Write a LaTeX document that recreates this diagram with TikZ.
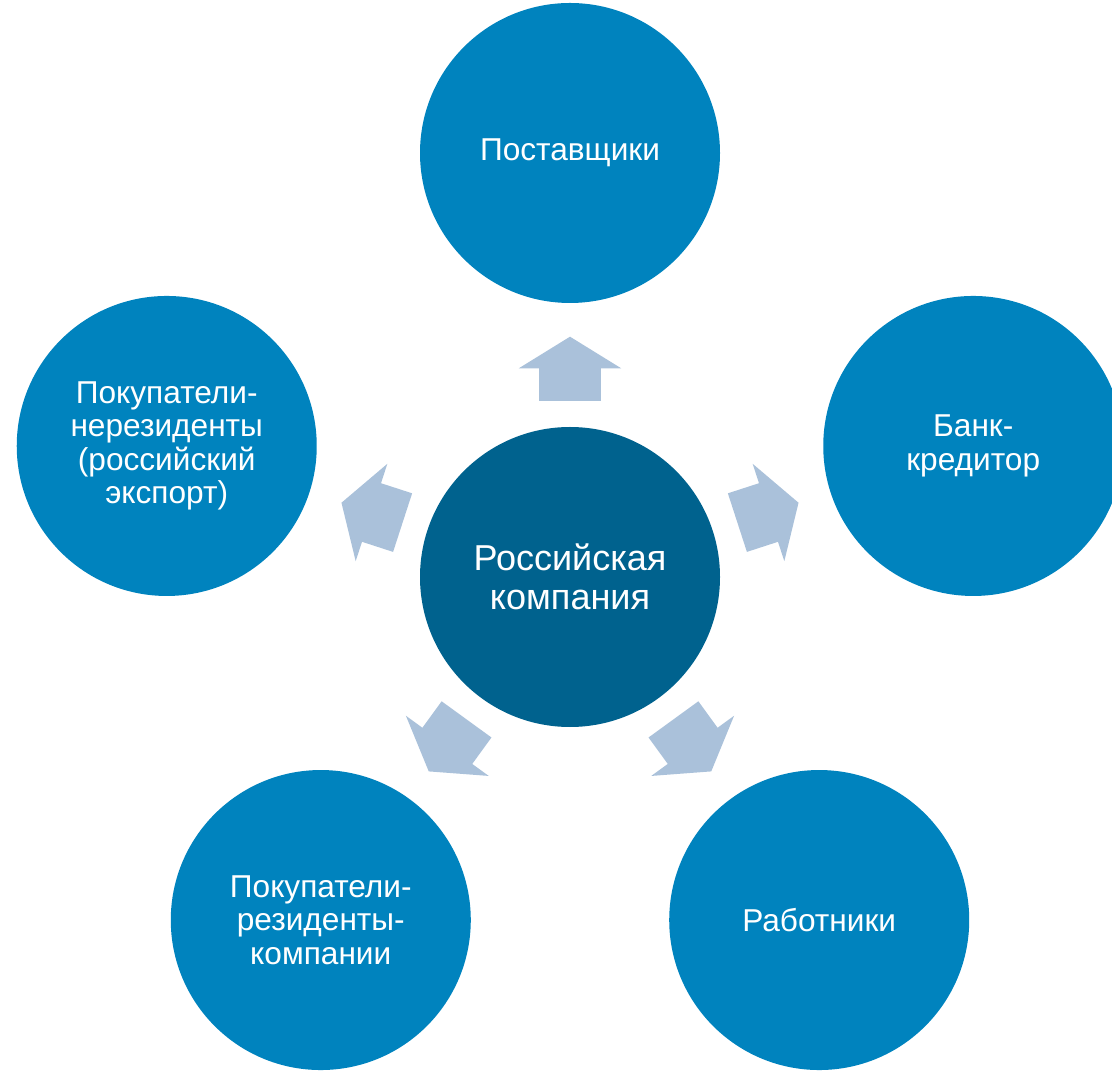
\documentclass[tikz,border=0pt]{standalone}
\usepackage{fontspec}
\setmainfont{Liberation Sans}
\definecolor{outerblue}{RGB}{0,131,190}
\definecolor{coreblue}{RGB}{0,98,142}
\definecolor{arrowblue}{RGB}{170,193,218}
\tikzset{
  party/.style={circle, fill=outerblue, text=white, minimum size=6cm, inner sep=0pt,
    align=center, font=\fontsize{18}{19}\selectfont},
  core/.style={party, fill=coreblue, font=\fontsize{20.5}{22.5}\selectfont},
  flow/.style={fill=arrowblue}
}
\begin{document}
\begin{tikzpicture}
\useasboundingbox (-11.4,-9.86) rectangle (10.84,11.54);
\node[core] (firm) at (0,0) {Российская\\компания};
\node[party] (supp) at (90:8.48) {Поставщики};
\node[party] (bank) at (18:8.48) {Банк-\\кредитор};
\node[party] (export) at (162:8.48) {Покупатели-\\нерезиденты\\(российский\\экспорт)};
\node[party] (resid) at (234:8.48) {Покупатели-\\резиденты-\\компании};
\node[party] (staff) at (306:8.48) {Работники};
% block arrows pointing outwards
\foreach \a in {90,18,162,234,306}
  \fill[flow,rotate=\a] (3.52,-0.616)--(4.174,-0.616)--(4.174,-1.024)--(4.806,0)
    --(4.174,1.024)--(4.174,0.616)--(3.52,0.616)--cycle;
\end{tikzpicture}
\end{document}
